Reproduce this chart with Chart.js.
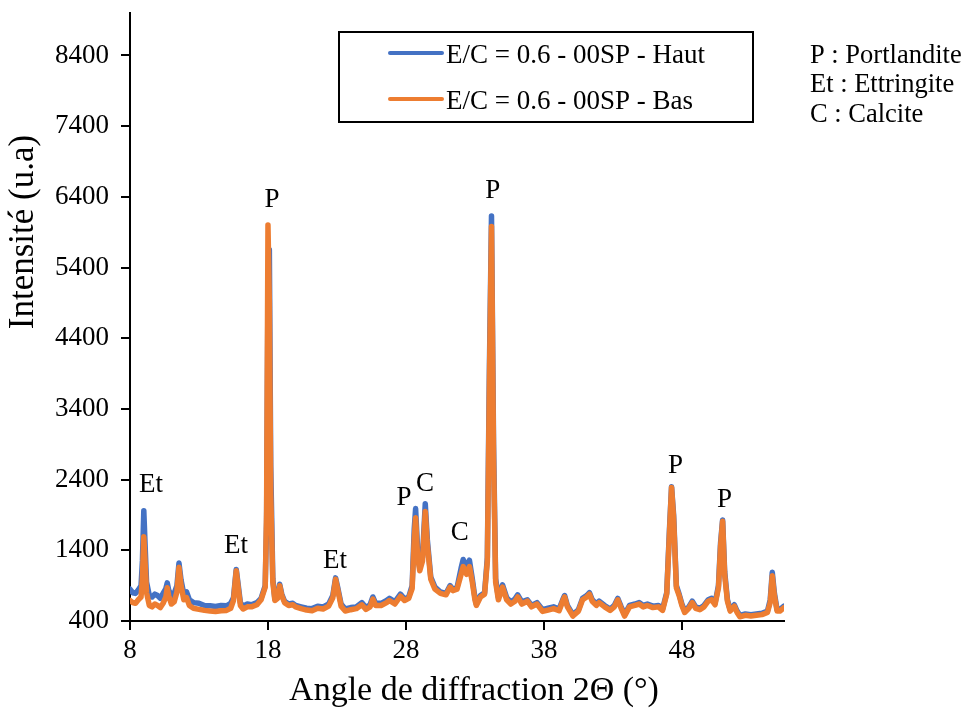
<!DOCTYPE html>
<html>
<head>
<meta charset="utf-8">
<script src="https://cdn.jsdelivr.net/npm/chart.js@4.4.1/dist/chart.umd.min.js"></script>
<style>
html,body{margin:0;padding:0;background:#fff;}
#wrap{width:966px;height:709px;position:relative;}
</style>
</head>
<body>
<div id="wrap"><canvas id="c" width="966" height="709"></canvas></div>
<script>
// ---- DATA ----
const seriesNames = ["E/C = 0.6 - 00SP - Haut", "E/C = 0.6 - 00SP - Bas"];
const angles = [
  8.0, 8.2, 8.4, 8.6, 8.8, 8.9, 9.0, 9.1, 9.2, 9.4,
  9.6, 9.8, 10.0, 10.2, 10.4, 10.6, 10.7, 10.8, 11.0, 11.2,
  11.4, 11.55, 11.7, 11.9, 12.1, 12.3, 12.6, 13.0, 13.4, 13.8,
  14.2, 14.6, 15.0, 15.3, 15.5, 15.7, 15.85, 16.0, 16.2, 16.5,
  16.8, 17.2, 17.5, 17.8, 17.9, 18.0, 18.1, 18.2, 18.35, 18.5,
  18.7, 18.85, 19.0, 19.2, 19.5, 19.8, 20.0, 20.4, 20.8, 21.2,
  21.6, 22.0, 22.4, 22.7, 22.9, 23.05, 23.3, 23.6, 24.0, 24.4,
  24.8, 25.1, 25.4, 25.6, 25.8, 26.2, 26.6, 26.8, 27.2, 27.6,
  27.9, 28.2, 28.45, 28.6, 28.7, 28.85, 29.0, 29.2, 29.4, 29.55,
  29.8, 30.1, 30.5, 30.9, 31.2, 31.4, 31.7, 32.0, 32.15, 32.4,
  32.6, 32.8, 33.0, 33.1, 33.4, 33.7, 33.9, 34.05, 34.2, 34.35,
  34.5, 34.7, 35.0, 35.3, 35.6, 35.9, 36.1, 36.4, 36.8, 37.1,
  37.5, 37.9, 38.3, 38.7, 39.1, 39.4, 39.5, 39.7, 40.1, 40.5,
  40.8, 41.1, 41.3, 41.5, 41.8, 42.0, 42.4, 42.8, 43.1, 43.35,
  43.6, 43.85, 44.2, 44.6, 44.9, 45.2, 45.5, 45.9, 46.3, 46.6,
  46.9, 47.1, 47.25, 47.4, 47.6, 47.8, 48.0, 48.2, 48.5, 48.75,
  49.0, 49.3, 49.6, 49.9, 50.15, 50.4, 50.65, 50.8, 50.95, 51.1,
  51.3, 51.5, 51.8, 52.0, 52.2, 52.6, 53.0, 53.4, 53.8, 54.2,
  54.4, 54.55, 54.7, 54.9, 55.1, 55.4
];
const haut = [
  850, 800, 790, 840, 900, 1250, 1960, 1450, 950, 760,
  740, 780, 760, 720, 790, 860, 940, 840, 760, 790,
  900, 1220, 980, 780, 810, 700, 660, 650, 620, 615,
  605, 620, 615, 650, 730, 1130, 900, 660, 610, 640,
  630, 660, 720, 900, 1800, 5100, 5650, 2600, 1000, 710,
  740, 920, 780, 680, 640, 650, 620, 600, 580, 575,
  610, 600, 640, 760, 1010, 880, 640, 570, 590, 600,
  660, 590, 630, 740, 650, 650, 690, 720, 670, 780,
  710, 740, 900, 1700, 1990, 1400, 1150, 1300, 2060, 1550,
  1020, 880, 810, 790, 900, 850, 870, 1150, 1270, 1160,
  1260, 1010, 730, 640, 760, 800, 1300, 4000, 6130, 2900,
  1000, 730, 910, 730, 670, 710, 770, 670, 700, 620,
  660, 560, 580, 600, 570, 720, 760, 620, 490, 560,
  720, 760, 800, 700, 640, 680, 620, 570, 620, 720,
  600, 490, 620, 640, 660, 620, 640, 610, 620, 570,
  800, 1700, 2300, 1900, 900, 780, 640, 540, 600, 680,
  600, 580, 620, 700, 720, 650, 900, 1500, 1830, 1100,
  700, 560, 630, 540, 480, 500, 490, 500, 510, 540,
  700, 1090, 800, 560, 560, 610
];
const bas = [
  690, 660, 650, 700, 740, 1000, 1590, 1200, 800, 620,
  600, 640, 620, 590, 650, 740, 870, 760, 640, 670,
  810, 1160, 900, 700, 730, 620, 580, 565, 550, 540,
  535, 545, 550, 580, 690, 1110, 860, 620, 570, 600,
  600, 630, 700, 880, 1950, 6000, 4900, 2200, 950, 690,
  720, 900, 760, 660, 620, 630, 600, 575, 555, 545,
  580, 570, 610, 730, 990, 850, 610, 540, 560, 575,
  630, 565, 600, 710, 620, 620, 660, 690, 640, 750,
  690, 720, 860, 1550, 1860, 1300, 1110, 1250, 1950, 1480,
  990, 850, 790, 770, 880, 830, 850, 1060, 1170, 1060,
  1170, 960, 700, 620, 740, 780, 1250, 3800, 5980, 2700,
  950, 700, 880, 700, 640, 680, 740, 640, 680, 600,
  640, 535, 555, 575, 545, 700, 740, 600, 470, 540,
  700, 740, 780, 680, 620, 660, 600, 550, 600, 700,
  580, 470, 600, 620, 640, 600, 620, 590, 600, 550,
  780, 1650, 2290, 1850, 870, 760, 620, 520, 580, 660,
  580, 560, 600, 680, 700, 630, 870, 1450, 1810, 1050,
  680, 540, 610, 520, 460, 480, 470, 480, 490, 520,
  660, 1040, 760, 540, 540, 590
];
const xTicks = [8, 18, 28, 38, 48];
const yTicks = [400, 1400, 2400, 3400, 4400, 5400, 6400, 7400, 8400];
const peakLabels = ["Et", "Et", "P", "Et", "P", "C", "C", "P", "P", "P"];
const peakLabelX = [9.52, 15.68, 18.29, 22.86, 27.86, 29.38, 31.9, 34.29, 47.53, 51.08];
const peakLabelY = [2330, 1460, 6350, 1250, 2145, 2336, 1650, 6490, 2590, 2110];
const phaseKey = ["P : Portlandite", "Et : Ettringite", "C : Calcite"];
const xTitle = "Angle de diffraction 2\u0398 (\u00B0)";
const yTitle = "Intensit\u00E9 (u.a)";

// ---- STYLE ----
const FONT = "'Liberation Serif', 'Times New Roman', serif";
const BLUE = "#4472C4";
const ORANGE = "#ED7D31";

const extras = {
  id: 'extras',
  afterDraw(chart) {
    const ctx = chart.ctx;
    const xs = chart.scales.x, ys = chart.scales.y;
    ctx.save();
    ctx.fillStyle = '#000';
    // peak labels
    ctx.font = "27px " + FONT;
    ctx.textAlign = 'center';
    ctx.textBaseline = 'middle';
    peakLabels.forEach((t, i) => {
      ctx.fillText(t, xs.getPixelForValue(peakLabelX[i]), ys.getPixelForValue(peakLabelY[i]));
    });
    // legend box
    ctx.lineWidth = 2;
    ctx.strokeStyle = '#000';
    ctx.strokeRect(339, 32, 414, 90);
    const rows = [53, 99];
    chart.data.datasets.forEach((ds, i) => {
      ctx.strokeStyle = ds.borderColor;
      ctx.lineWidth = 4;
      ctx.lineCap = 'round';
      ctx.beginPath();
      ctx.moveTo(390, rows[i]);
      ctx.lineTo(442, rows[i]);
      ctx.stroke();
      ctx.fillStyle = '#000';
      ctx.textAlign = 'left';
      ctx.textBaseline = 'alphabetic';
      ctx.font = "27px " + FONT;
      ctx.fillText(ds.label, 446, rows[i] + 9.5);
    });
    // phase key
    ctx.font = "26.5px " + FONT;
    ctx.textAlign = 'left';
    ctx.textBaseline = 'alphabetic';
    phaseKey.forEach((t, i) => ctx.fillText(t, 810, 63 + i * 29.3));
    // axis titles
    ctx.textAlign = 'center';
    ctx.textBaseline = 'middle';
    ctx.font = "34px " + FONT;
    ctx.fillText(xTitle, 474, 691);
    ctx.translate(24, 232);
    ctx.rotate(-Math.PI / 2);
    ctx.font = "35px " + FONT;
    ctx.fillText(yTitle, 0, 0);
    ctx.restore();
  }
};

const lineStyle = { borderWidth: 5.5, pointRadius: 0, tension: 0, fill: false,
                    borderJoinStyle: 'round', borderCapStyle: 'round' };

new Chart(document.getElementById('c'), {
  type: 'line',
  data: {
    datasets: [
      Object.assign({ label: seriesNames[0], data: angles.map((a, i) => ({x: a, y: haut[i]})),
        borderColor: BLUE, order: 2 }, lineStyle),
      Object.assign({ label: seriesNames[1], data: angles.map((a, i) => ({x: a, y: bas[i]})),
        borderColor: ORANGE, order: 1 }, lineStyle)
    ]
  },
  options: {
    responsive: false,
    animation: false,
    devicePixelRatio: 1,
    layout: { padding: { left: 0, top: 13, right: 182, bottom: 28 } },
    plugins: { legend: { display: false }, tooltip: { enabled: false } },
    scales: {
      x: {
        type: 'linear', min: 8, max: 55.4,
        afterBuildTicks: s => { s.ticks = xTicks.map(v => ({ value: v })); },
        afterFit: s => { s.height = 60; s.paddingLeft = 0; s.paddingRight = 0; },
        ticks: { font: { family: FONT, size: 27 }, color: '#000', padding: 5, maxRotation: 0,
                 autoSkip: false, callback: v => String(v) },
        grid: { drawOnChartArea: false, drawTicks: true, tickLength: 9, color: '#000', lineWidth: 2 },
        border: { display: true, color: '#000', width: 2 }
      },
      y: {
        type: 'linear', min: 400, max: 9000,
        afterBuildTicks: s => { s.ticks = yTicks.map(v => ({ value: v })); },
        afterFit: s => { s.width = 130; s.paddingTop = 0; s.paddingBottom = 0; },
        ticks: { font: { family: FONT, size: 27 }, color: '#000', padding: 12,
                 autoSkip: false, callback: v => String(v) },
        grid: { drawOnChartArea: false, drawTicks: true, tickLength: 9, color: '#000', lineWidth: 2 },
        border: { display: true, color: '#000', width: 2 }
      }
    }
  },
  plugins: [extras]
});
</script>
</body>
</html>
